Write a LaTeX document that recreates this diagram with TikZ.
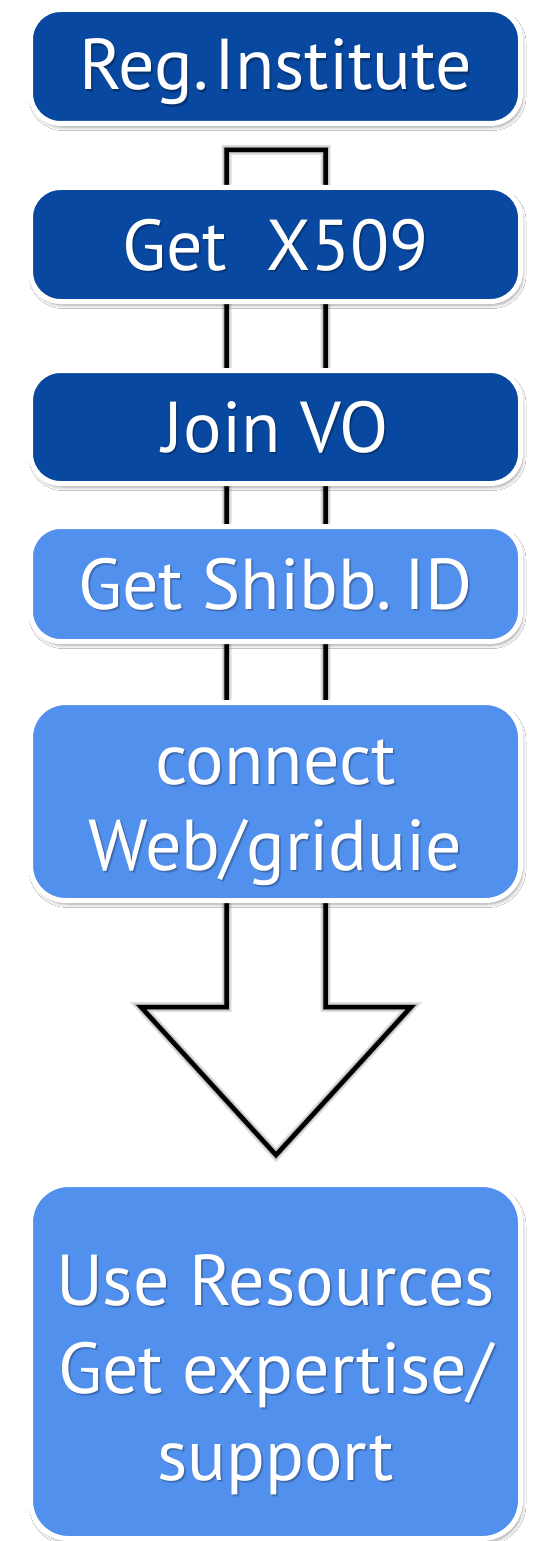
\documentclass[tikz,border=0pt]{standalone}
\usepackage{fontspec}
\setmainfont{PT Sans}
\usetikzlibrary{shadows.blur}

\definecolor{darkstep}{RGB}{8,72,160}
\definecolor{lightstep}{RGB}{82,144,238}

\tikzset{
  stepbox/.style={rectangle, rounded corners=30pt, draw=white, line width=5pt,
    minimum width=490pt, inner sep=0pt,
    blur shadow={shadow xshift=2pt, shadow yshift=-3.5pt, shadow blur radius=3.5pt, shadow opacity=40}},
  labelfont/.style={font=\fontsize{72}{86}\selectfont},
  steptext/.style={labelfont, text=white, inner sep=0pt, anchor=base},
  textshade/.style={labelfont, text=black, text opacity=0.16, inner sep=0pt, anchor=base},
  arrowline/.style={draw=black, line width=4.5pt, miter limit=10},
  arrowshade/.style={draw=black, draw opacity=0.12, line width=#1, xshift=3pt, yshift=-3pt},
}

% label with a soft drop shadow behind it
\newcommand\steplabel[4]{%
  \node[textshade, xshift=1pt, yshift=-1.5pt] (#1s) at (#2,#3) {#4};
  \node[textshade, xshift=2pt, yshift=-2.5pt] (#1r) at (#2,#3) {#4};
  \node[steptext] (#1) at (#2,#3) {#4};}

\begin{document}
\begin{tikzpicture}[x=1pt, y=-1pt]
\fill[white] (0,0) rectangle (533,1541);
\useasboundingbox (0,0) rectangle (533,1541);

% big outlined arrow running behind the boxes
\coordinate (a1) at (226.5,150);
\coordinate (a2) at (325.5,150);
\coordinate (a3) at (325.5,1007);
\coordinate (a4) at (411,1007);
\coordinate (a5) at (276,1155);
\coordinate (a6) at (141,1007);
\coordinate (a7) at (226.5,1007);
\foreach \w in {10pt,7pt,5pt}
  \draw[arrowshade=\w] (a1) -- (a2) -- (a3) -- (a4) -- (a5) -- (a6) -- (a7) -- cycle;
\draw[arrowline] (a1) -- (a2) -- (a3) -- (a4) -- (a5) -- (a6) -- (a7) -- cycle;

% step boxes
\node[stepbox, fill=darkstep,  minimum height=114pt] (reg)   at (275.5,66.5)  {};
\node[stepbox, fill=darkstep,  minimum height=114pt] (x509)  at (275.5,244.5) {};
\node[stepbox, fill=darkstep,  minimum height=113pt] (vo)    at (275.5,427)   {};
\node[stepbox, fill=lightstep, minimum height=115pt] (shibb) at (275.5,584)   {};
\node[stepbox, fill=lightstep, minimum height=198pt, rounded corners=35pt] (web) at (275.5,801.5) {};
\node[stepbox, fill=lightstep, minimum height=354pt, rounded corners=38pt] (use) at (275.5,1361.5) {};

% labels
\steplabel{regt}{275.5}{90}{Reg.\hspace{0.08em}Institute}
\steplabel{x509t}{275.5}{270}{Get\hspace{0.55em}X509}
\steplabel{vot}{275.5}{452}{Join VO}
\steplabel{shibbt}{275.5}{609}{Get Shibb.\hspace{0.18em}ID}
\steplabel{webta}{275.5}{784}{connect}
\steplabel{webtb}{275.5}{870}{Web/griduie}
\steplabel{useta}{275.5}{1305}{Use Resources}
\steplabel{usetb}{275.5}{1393}{Get expertise/}
\steplabel{usetc}{275.5}{1480}{support}
\end{tikzpicture}
\end{document}
